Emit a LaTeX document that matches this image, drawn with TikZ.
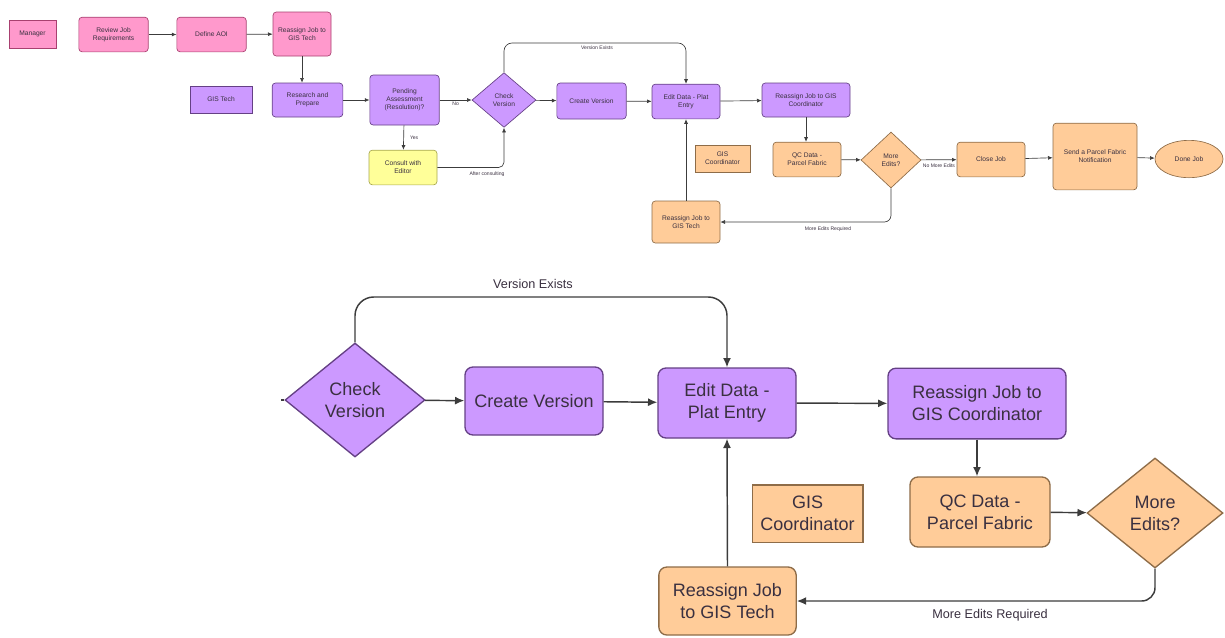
\documentclass[tikz,border=0pt]{standalone}
\usepackage{fontspec}
\setmainfont{Liberation Sans}
\usetikzlibrary{shapes.geometric,arrows.meta}
\definecolor{pinkf}{HTML}{FF99CC}
\definecolor{pinkd}{HTML}{A84070}
\definecolor{purpf}{HTML}{CC99FF}
\definecolor{purpd}{HTML}{654085}
\definecolor{orf}{HTML}{FFCC99}
\definecolor{ord}{HTML}{8E6C48}
\definecolor{yelf}{HTML}{FFFF99}
\definecolor{yeld}{HTML}{A8A850}
\definecolor{txt}{HTML}{3A3040}
\definecolor{ln}{HTML}{3C3C3C}
\begin{document}
\begin{tikzpicture}[x=0.75pt,y=-0.75pt,
  base/.style={draw, align=center, inner sep=1pt, text=txt},
  big/.style={base, font=\fontsize{13.5}{16.5}\selectfont, line width=1pt},
  small/.style={base, font=\fontsize{5}{6}\selectfont, line width=0.5pt},
  rbig/.style={big, rounded corners=6pt},
  rsmall/.style={small, rounded corners=2.5pt},
  pinkn/.style={fill=pinkf, draw=pinkd},
  purpn/.style={fill=purpf, draw=purpd},
  orn/.style={fill=orf, draw=ord},
  yeln/.style={fill=yelf, draw=yeld},
  dia/.style={shape=diamond, inner sep=0pt},
  arrbig/.style={draw=ln, line width=1.1pt, -{Latex[length=7pt,width=6pt]}},
  arrsmall/.style={draw=ln, line width=0.5pt, -{Latex[length=3.5pt,width=3pt]}},
  lblbig/.style={font=\fontsize{9.5}{11}\selectfont, text=txt, inner sep=1pt},
  lblsmall/.style={font=\fontsize{3.8}{4.5}\selectfont, text=txt, inner sep=0.5pt}
]
\useasboundingbox (0,0) rectangle (1225,637);

% ===================== top overview =====================
\node[small, pinkn, minimum width=35pt, minimum height=21pt] (mg) at (32.5,34) {Manager};
\node[rsmall, pinkn, minimum width=52pt, minimum height=26pt] (rv) at (113.5,34.5) {Review Job\\Requirements};
\node[rsmall, pinkn, minimum width=52pt, minimum height=26pt] (da) at (211.5,34.5) {Define AOI};
\node[rsmall, pinkn, minimum width=43.5pt, minimum height=33pt] (rg) at (302,34) {Reassign Job to\\GIS Tech};

\node[small, purpn, minimum width=46.5pt, minimum height=20pt] (gt) at (221,99.5) {GIS Tech};
\node[rsmall, purpn, minimum width=53pt, minimum height=25.5pt] (rp) at (307.5,100) {Research and\\Prepare};
\node[rsmall, purpn, minimum width=52pt, minimum height=37.5pt] (pd) at (404.5,100) {Pending\\Assessment\\(Resolution)?};
\node[small, dia, purpn, minimum width=48pt, minimum height=41pt] (cc) at (504,100) {Check\\Version};
\node[rsmall, purpn, minimum width=52pt, minimum height=27pt] (cr) at (591.5,101) {Create Version};
\node[rsmall, purpn, minimum width=51pt, minimum height=26pt] (et) at (686,101.5) {Edit Data - Plat\\Entry};
\node[rsmall, purpn, minimum width=66pt, minimum height=25.5pt] (rgc) at (806,100) {Reassign Job to GIS\\Coordinator};

\node[rsmall, yeln, minimum width=51pt, minimum height=26pt] (co) at (403,167.5) {Consult with\\Editor};

\node[small, orn, minimum width=41pt, minimum height=20pt] (gco) at (722.5,158.5) {GIS\\Coordinator};
\node[rsmall, orn, minimum width=51pt, minimum height=26pt] (qct) at (807,159.5) {QC Data -\\Parcel Fabric};
\node[small, dia, orn, minimum width=45pt, minimum height=42pt] (met) at (891,160) {More\\Edits?};
\node[rsmall, orn, minimum width=51pt, minimum height=26pt] (cj) at (991,159.5) {Close Job};
\node[rsmall, orn, minimum width=63pt, minimum height=50pt] (sn) at (1095,156.5) {Send a Parcel Fabric\\Notification};
\node[small, shape=ellipse, orn, minimum width=51pt, minimum height=28pt] (dj) at (1189,159) {Done Job};
\node[rsmall, orn, minimum width=51pt, minimum height=31.5pt] (rtt) at (686,222) {Reassign Job to\\GIS Tech};

\draw[arrsmall] (rv) -- (da);
\draw[arrsmall] (da) -- (rg);
\draw[arrsmall] (rg.south) -- (rg.south |- rp.north);
\draw[arrsmall] (rp) -- (pd);
\draw[arrsmall] (pd) -- node[lblsmall, below=1pt] {No} (cc);
\draw[arrsmall] (pd) -- node[lblsmall, right=4pt] {Yes} (co);
\draw[arrsmall, rounded corners=4pt] (co.east) -| (cc.south);
\node[lblsmall] (lac) at (487,174) {After consulting};
\coordinate (vt) at (597,43);
\draw[arrsmall, rounded corners=6pt] (cc.north) |- (vt) -| (et.north);
\node[lblsmall] (lve) at (597,48) {Version Exists};
\draw[arrsmall] (cc) -- (cr);
\draw[arrsmall] (cr) -- (et);
\draw[arrsmall] (et) -- (rgc);
\draw[arrsmall] (rgc.south) -- (rgc.south |- qct.north);
\draw[arrsmall] (qct) -- (met);
\draw[arrsmall] (met) -- node[lblsmall, below=2pt] {No More Edits} (cj);
\draw[arrsmall] (cj) -- (sn);
\draw[arrsmall] (sn) -- (dj);
\draw[arrsmall, rounded corners=5pt] (met.south) |- (rtt.east);
\node[lblsmall] (lmr) at (828,229) {More Edits Required};
\draw[arrsmall] (rtt.north) -- (et.south);

% ===================== enlarged detail =====================
\node[big, dia, purpn, minimum width=105pt, minimum height=85.5pt] (ck) at (355,400) {Check\\Version};
\node[rbig, purpn, minimum width=103.5pt, minimum height=51pt] (cv) at (534,401) {Create Version};
\node[rbig, purpn, minimum width=103.5pt, minimum height=52.5pt] (ed) at (727,403) {Edit Data -\\Plat Entry};
\node[rbig, purpn, minimum width=133.5pt, minimum height=53pt] (rc) at (977,403.5) {Reassign Job to\\GIS Coordinator};
\node[rbig, orn, minimum width=105pt, minimum height=52.5pt] (qc) at (980,512) {QC Data -\\Parcel Fabric};
\node[big, dia, orn, minimum width=102pt, minimum height=82.5pt] (me) at (1155,513) {More\\Edits?};
\node[big, orn, minimum width=83pt, minimum height=43pt] (gc) at (807.5,513.5) {GIS\\Coordinator};
\node[rbig, orn, minimum width=103pt, minimum height=51pt] (rt) at (727.5,601) {Reassign Job\\to GIS Tech};

\coordinate (stub) at (281,400);
\draw[draw=ln, line width=1.1pt] (stub) -- (ck.west);
\coordinate (vtop) at (533,297);
\draw[arrbig, rounded corners=14pt] (ck.north) |- (vtop) -| (ed.north);
\node[lblbig] (lvb) at (533,284) {Version Exists};
\draw[arrbig] (ck) -- (cv);
\draw[arrbig] (cv) -- (ed);
\draw[arrbig] (ed) -- (rc);
\draw[arrbig] (rc.south) -- (rc.south |- qc.north);
\draw[arrbig] (qc) -- (me);
\draw[arrbig, rounded corners=10pt] (me.south) |- (rt.east);
\node[lblbig] (lmb) at (990,615) {More Edits Required};
\draw[arrbig] (rt.north) -- (ed.south);
\end{tikzpicture}
\end{document}
